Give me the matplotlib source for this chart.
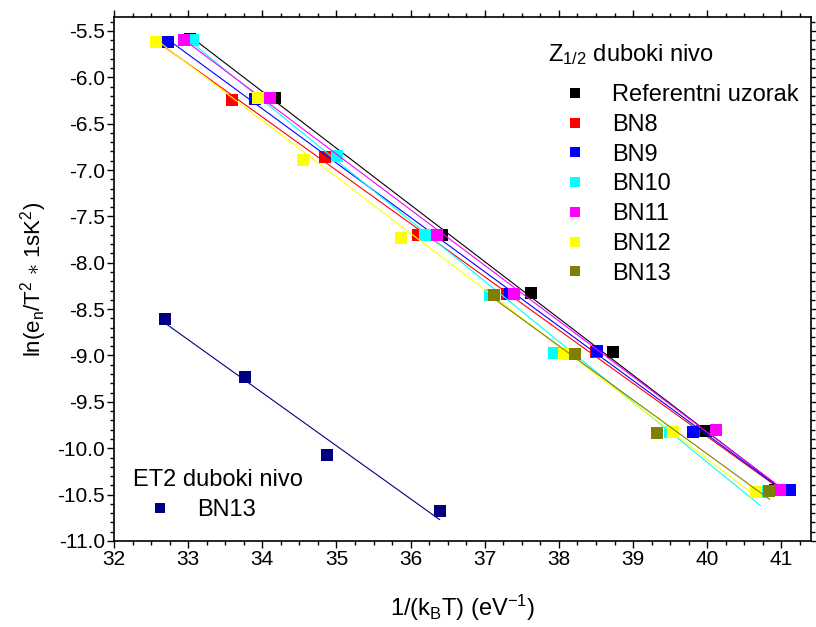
"""Arrhenius plot of Z1/2 and ET2 deep levels for the BN samples."""

import matplotlib
matplotlib.use("Agg")
import matplotlib.pyplot as plt
import numpy as np
from matplotlib.lines import Line2D
from matplotlib.ticker import FormatStrFormatter, MultipleLocator

plt.rcParams["font.family"] = ["Liberation Sans", "DejaVu Sans"]
plt.rcParams["mathtext.fontset"] = "custom"
plt.rcParams["mathtext.rm"] = "Liberation Sans"
plt.rcParams["mathtext.it"] = "Liberation Sans:italic"

# Z1/2 level, x = 1/(kB T) in eV^-1, y = ln(en/T^2)
ref_x = [33.02, 34.17, 36.42, 37.63, 38.73, 39.98, 40.92]
ref_y = [-5.59, -6.22, -7.70, -8.33, -8.96, -9.81, -10.45]

bn8_x = [32.66, 33.59, 34.84, 36.10, 37.30, 38.50, 39.93, 40.95]
bn8_y = [-5.62, -6.25, -6.86, -7.70, -8.34, -8.96, -9.81, -10.45]

bn9_x = [32.73, 33.90, 36.33, 37.34, 38.51, 39.81, 41.11]
bn9_y = [-5.62, -6.23, -7.70, -8.34, -8.95, -9.82, -10.45]

bn10_x = [33.07, 34.03, 35.01, 36.20, 37.07, 37.94, 39.50, 40.72]
bn10_y = [-5.60, -6.22, -6.85, -7.70, -8.35, -8.97, -9.83, -10.47]

bn11_x = [32.94, 34.11, 36.35, 37.40, 40.12, 40.98]
bn11_y = [-5.60, -6.22, -7.70, -8.34, -9.80, -10.45]

bn12_x = [32.56, 33.94, 34.55, 35.87, 37.13, 38.07, 39.54, 40.66]
bn12_y = [-5.62, -6.22, -6.89, -7.73, -8.35, -8.98, -9.83, -10.47]

bn13_x = [37.13, 38.22, 39.32, 40.84]
bn13_y = [-8.35, -8.98, -9.84, -10.46]

# ET2 level, BN13
et2_x = [32.69, 33.77, 34.87, 36.39]
et2_y = [-8.61, -9.23, -10.07, -10.68]

z12_labels = ["Referentni uzorak", "BN8", "BN9", "BN10", "BN11", "BN12", "BN13"]
z12_colors = ["#000000", "#ff0000", "#0000ff", "#00ffff", "#ff00ff", "#ffff00", "#808000"]
z12_data = [(ref_x, ref_y), (bn8_x, bn8_y), (bn9_x, bn9_y), (bn10_x, bn10_y),
            (bn11_x, bn11_y), (bn12_x, bn12_y), (bn13_x, bn13_y)]
# red sits under black in the original drawing order
z12_order = [2, 1, 3, 4, 5, 6, 7]
et2_color = "#000080"

fig = plt.figure(figsize=(8.16, 6.27), dpi=100)
ax = fig.add_axes([0.1397, 0.1372, 0.8542, 0.8357])


def draw_series(x, y, color, z):
    x = np.asarray(x)
    y = np.asarray(y)
    slope, icpt = np.polyfit(x, y, 1)
    xs = np.array([x.min(), x.max()])
    ax.plot(xs, slope * xs + icpt, color=color, lw=0.8, zorder=z)
    ax.plot(x, y, ls="none", marker="s", ms=8, mew=0, color=color, zorder=z + 0.5)


for (x, y), color, z in zip(z12_data, z12_colors, z12_order):
    draw_series(x, y, color, z)
draw_series(et2_x, et2_y, et2_color, 8)

ax.set_xlim(32, 41.4)
ax.set_ylim(-11.0, -5.35)
ax.xaxis.set_major_locator(MultipleLocator(1))
ax.xaxis.set_minor_locator(MultipleLocator(0.25))
ax.yaxis.set_major_locator(MultipleLocator(0.5))
ax.yaxis.set_minor_locator(MultipleLocator(0.1))
ax.yaxis.set_major_formatter(FormatStrFormatter("%.1f"))
ax.tick_params(which="both", direction="out", top=True, right=True,
               labelsize=15, width=1.0, pad=1.5)
ax.tick_params(which="major", length=5)
ax.tick_params(which="minor", length=3)
for sp in ax.spines.values():
    sp.set_linewidth(1.2)

ax.set_xlabel("1/(k$_{\\mathrm{B}}$T) (eV$^{-1}$)", fontsize=17, labelpad=17)
ax.set_ylabel("ln(e$_{\\mathrm{n}}$/T$^{2}$ $\\ast$ 1sK$^{2}$)", fontsize=16, labelpad=6)

legend_kw = dict(frameon=False, fontsize=17, handlelength=1.4, handletextpad=0.87,
                 labelspacing=0.33, borderpad=0, borderaxespad=0, loc="upper left")

z12_handles = [Line2D([], [], ls="none", marker="s", ms=7, mew=0, color=c)
               for c in z12_colors]
leg1 = ax.legend(z12_handles, z12_labels, bbox_to_anchor=(0.6377, 0.8721), **legend_kw)
ax.add_artist(leg1)
ax.text(0.6227, 0.916, "Z$_{1/2}$ duboki nivo", transform=ax.transAxes,
        fontsize=17, ha="left", va="baseline")

et2_handle = Line2D([], [], ls="none", marker="s", ms=7, mew=0, color=et2_color)
ax.legend([et2_handle], ["BN13"], bbox_to_anchor=(0.0423, 0.0802), **legend_kw)
ax.text(0.0273, 0.105, "ET2 duboki nivo", transform=ax.transAxes,
        fontsize=17, ha="left", va="baseline")

fig.savefig("out.png", dpi=100)
